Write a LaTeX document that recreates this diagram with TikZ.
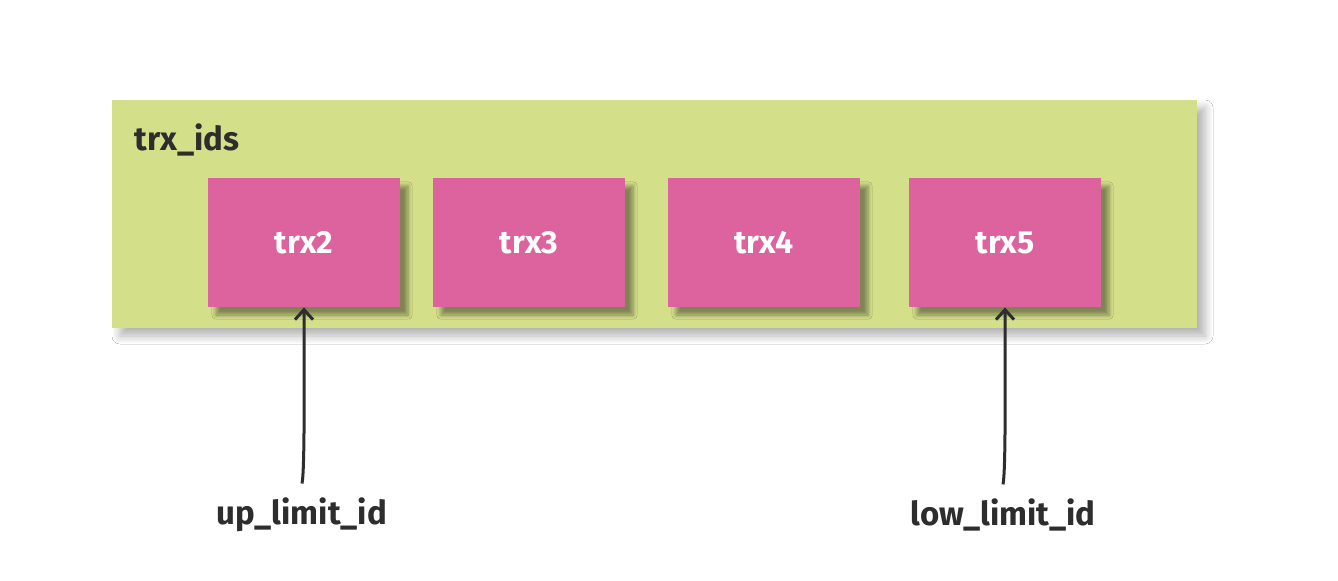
\documentclass[tikz,border=0pt]{standalone}
\usepackage{fontspec}
\setmainfont{Fira Sans}
\usetikzlibrary{shadows.blur,arrows.meta}
\definecolor{boxgreen}{RGB}{212,223,138}
\definecolor{boxpink}{RGB}{221,99,158}
\definecolor{ink}{RGB}{45,45,45}
\begin{document}
\begin{tikzpicture}[x=0.5pt,y=-0.5pt,
  outer/.style={fill=boxgreen, draw=none, blur shadow={shadow xshift=4pt, shadow yshift=-4pt, shadow blur steps=8, shadow blur radius=4pt, shadow opacity=30}},
  item/.style={fill=boxpink, draw=none, minimum width=96pt, minimum height=64.5pt, inner sep=0pt,
     text=white, font=\bfseries\fontsize{16}{18}\selectfont,
     blur shadow={shadow xshift=4pt, shadow yshift=-4pt, shadow blur steps=6, shadow opacity=40}},
  lbl/.style={text=ink, font=\bfseries\fontsize{16.5}{19}\selectfont, inner sep=1pt},
  pointer/.style={draw=ink, line width=1.5pt, -{Straight Barb[length=5pt,width=9pt,line width=1.5pt]}}
]
\useasboundingbox (0,0) rectangle (1338,580);
\fill[white] (0,0) rectangle (1338,580);
\node[outer, minimum width=542.5pt, minimum height=114pt, inner sep=0pt] (ids) at (654.5,214) {};
\node[lbl, anchor=west] (idslbl) at (132,140) {trx\_ids};
\node[item] (t2) at (304,242.5) {trx2};
\node[item] (t3) at (529,242.5) {trx3};
\node[item] (t4) at (764,242.5) {trx4};
\node[item] (t5) at (1005,242.5) {trx5};
\node[lbl] (up) at (302,515) {up\_limit\_id};
\node[lbl] (low) at (1003,515) {low\_limit\_id};
\draw[pointer] ([yshift=6pt]up.north) .. controls +(3,-14) and +(0,60) .. (t2.south);
\draw[pointer] ([yshift=6pt]low.north) .. controls +(3,-14) and +(0,60) .. (t5.south);
\end{tikzpicture}
\end{document}
